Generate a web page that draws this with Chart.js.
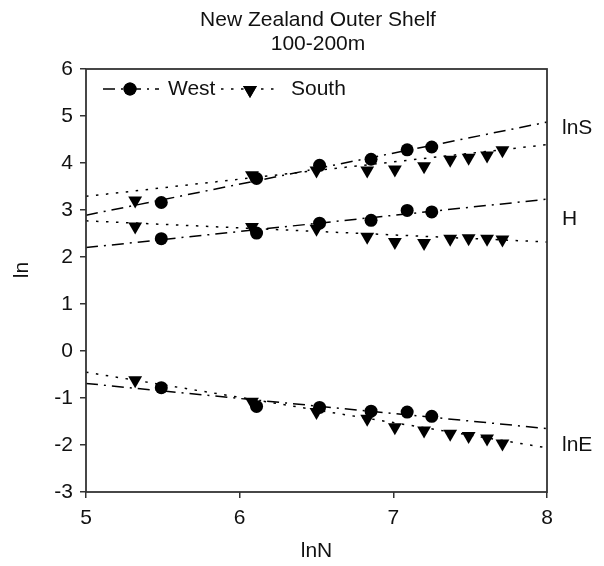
<!DOCTYPE html>
<html>
<head>
<meta charset="utf-8">
<script src="https://cdn.jsdelivr.net/npm/chart.js@4"></script>
<style>
  html,body{margin:0;padding:0;background:#fff}
  #wrap{width:604px;height:566px}
</style>
</head>
<body>
<div id="wrap"><canvas id="c" width="604" height="566"></canvas></div>
<script>
// lnN positions of the sites
const westLnN  = [5.49, 6.11, 6.52, 6.855, 7.09, 7.25];
const southLnN = [5.32, 6.08, 6.50, 6.83, 7.01, 7.20, 7.37, 7.49, 7.61, 7.71];

// ln values per index
const westLnS  = [3.16, 3.67, 3.95, 4.08, 4.28, 4.34];
const westH    = [2.39, 2.51, 2.72, 2.78, 2.99, 2.96];
const westLnE  = [-0.78, -1.18, -1.20, -1.28, -1.30, -1.39];
const southLnS = [3.20, 3.74, 3.84, 3.84, 3.86, 3.93, 4.07, 4.11, 4.16, 4.27];
const southH   = [2.65, 2.64, 2.60, 2.43, 2.32, 2.30, 2.39, 2.40, 2.39, 2.37];
const southLnE = [-0.62, -1.08, -1.30, -1.44, -1.62, -1.69, -1.76, -1.81, -1.86, -1.97];

// fitted lines, ends at lnN = 5 and 8
const fitLnN      = [5, 8];
const westFitLnS  = [2.89, 4.87];
const southFitLnS = [3.29, 4.39];
const westFitH    = [2.20, 3.23];
const southFitH   = [2.77, 2.32];
const westFitLnE  = [-0.69, -1.65];
const southFitLnE = [-0.45, -2.06];

const xTicks = [5, 6, 7, 8];
const yTicks = [-3, -2, -1, 0, 1, 2, 3, 4, 5, 6];
const titleLines = ['New Zealand Outer Shelf', '100-200m'];
const seriesNames = ['West', 'South'];
const indexNames = ['lnS', 'H', 'lnE'];
const indexLabelAt = [4.74, 2.80, -2.00];

const FONT = '"Liberation Sans", Arial, Helvetica, sans-serif';
const INK = '#111';
const WEST_DASH = [12, 6, 2, 6];
const SOUTH_DASH = [2.5, 7.5];
const DOT_R = 6.5, TRI_R = 8;

const pts = (xs, ys) => xs.map((x, i) => ({x, y: ys[i]}));

const westPoints = ys => ({data: pts(westLnN, ys), showLine: false, pointStyle: 'circle', pointRadius: DOT_R,
  pointBackgroundColor: '#000', pointBorderColor: '#000', pointBorderWidth: 0, order: 1});
const southPoints = ys => ({data: pts(southLnN, ys), showLine: false, pointStyle: 'triangle', pointRotation: 180, pointRadius: TRI_R,
  pointBackgroundColor: '#000', pointBorderColor: '#000', pointBorderWidth: 0, order: 1});
const fit = (ys, dash) => ({data: pts(fitLnN, ys), showLine: true, pointRadius: 0, borderColor: '#000',
  borderWidth: 1.5, borderDash: dash, fill: false, order: 2});

const datasets = [
  fit(westFitLnS, WEST_DASH), fit(southFitLnS, SOUTH_DASH),
  fit(westFitH, WEST_DASH), fit(southFitH, SOUTH_DASH),
  fit(westFitLnE, WEST_DASH), fit(southFitLnE, SOUTH_DASH),
  westPoints(westLnS), southPoints(southLnS),
  westPoints(westH), southPoints(southH),
  westPoints(westLnE), southPoints(southLnE)
];

// frame, titles, side labels and the key
const decor = {
  id: 'decor',
  afterDraw(chart){
    const {ctx, chartArea: a, scales: {y}} = chart;
    ctx.save();
    ctx.strokeStyle = '#333'; ctx.lineWidth = 1.8; ctx.setLineDash([]);
    ctx.strokeRect(a.left, a.top, a.right - a.left, a.bottom - a.top);

    ctx.fillStyle = INK; ctx.font = '21px ' + FONT; ctx.textBaseline = 'middle';
    ctx.textAlign = 'center';
    ctx.fillText(titleLines[0], 318, 20);
    ctx.fillText(titleLines[1], 318, 44);
    ctx.fillText('lnN', (a.left + a.right) / 2, 551);
    ctx.save(); ctx.translate(22, 270); ctx.rotate(-Math.PI / 2); ctx.fillText('ln', 0, 0); ctx.restore();

    ctx.textAlign = 'left';
    indexNames.forEach((n, i) => ctx.fillText(n, a.right + 15, y.getPixelForValue(indexLabelAt[i])));

    // key
    const ky = 89;
    ctx.strokeStyle = '#000'; ctx.lineWidth = 1.5;
    ctx.setLineDash(WEST_DASH);
    ctx.beginPath(); ctx.moveTo(103, ky); ctx.lineTo(159, ky); ctx.stroke();
    ctx.setLineDash(SOUTH_DASH);
    ctx.beginPath(); ctx.moveTo(221, ky); ctx.lineTo(280, ky); ctx.stroke();
    ctx.setLineDash([]);
    ctx.fillStyle = '#000';
    Chart.helpers.drawPoint(ctx, {pointStyle: 'circle', radius: DOT_R, borderWidth: 0}, 130, ky);
    ctx.fill();
    Chart.helpers.drawPoint(ctx, {pointStyle: 'triangle', radius: TRI_R, rotation: 180, borderWidth: 0}, 250, ky + 1);
    ctx.fill();
    ctx.fillStyle = INK;
    ctx.fillText(seriesNames[0], 168, ky);
    ctx.fillText(seriesNames[1], 291, ky);
    ctx.restore();
  }
};

new Chart(document.getElementById('c'), {
  type: 'scatter',
  data: {datasets},
  options: {
    responsive: false, animation: false, devicePixelRatio: 1,
    layout: {padding: {left: 0, right: 57, top: 69, bottom: 0}},
    plugins: {legend: {display: false}, tooltip: {enabled: false}, title: {display: false}},
    scales: {
      x: {
        type: 'linear', min: 5, max: 8,
        afterBuildTicks: s => { s.ticks = xTicks.map(v => ({value: v})); },
        afterFit: s => { s.height = 74; },
        ticks: {color: INK, font: {family: FONT, size: 21}, padding: 8},
        grid: {drawOnChartArea: false, drawTicks: true, tickLength: 6, color: '#333', lineWidth: 1.5},
        border: {display: false}
      },
      y: {
        type: 'linear', min: -3, max: 6,
        afterBuildTicks: s => { s.ticks = yTicks.map(v => ({value: v})); },
        afterFit: s => { s.width = 86; },
        ticks: {color: INK, font: {family: FONT, size: 21}, padding: 7},
        grid: {drawOnChartArea: false, drawTicks: true, tickLength: 6, color: '#333', lineWidth: 1.5},
        border: {display: false}
      }
    }
  },
  plugins: [decor]
});
</script>
</body>
</html>
